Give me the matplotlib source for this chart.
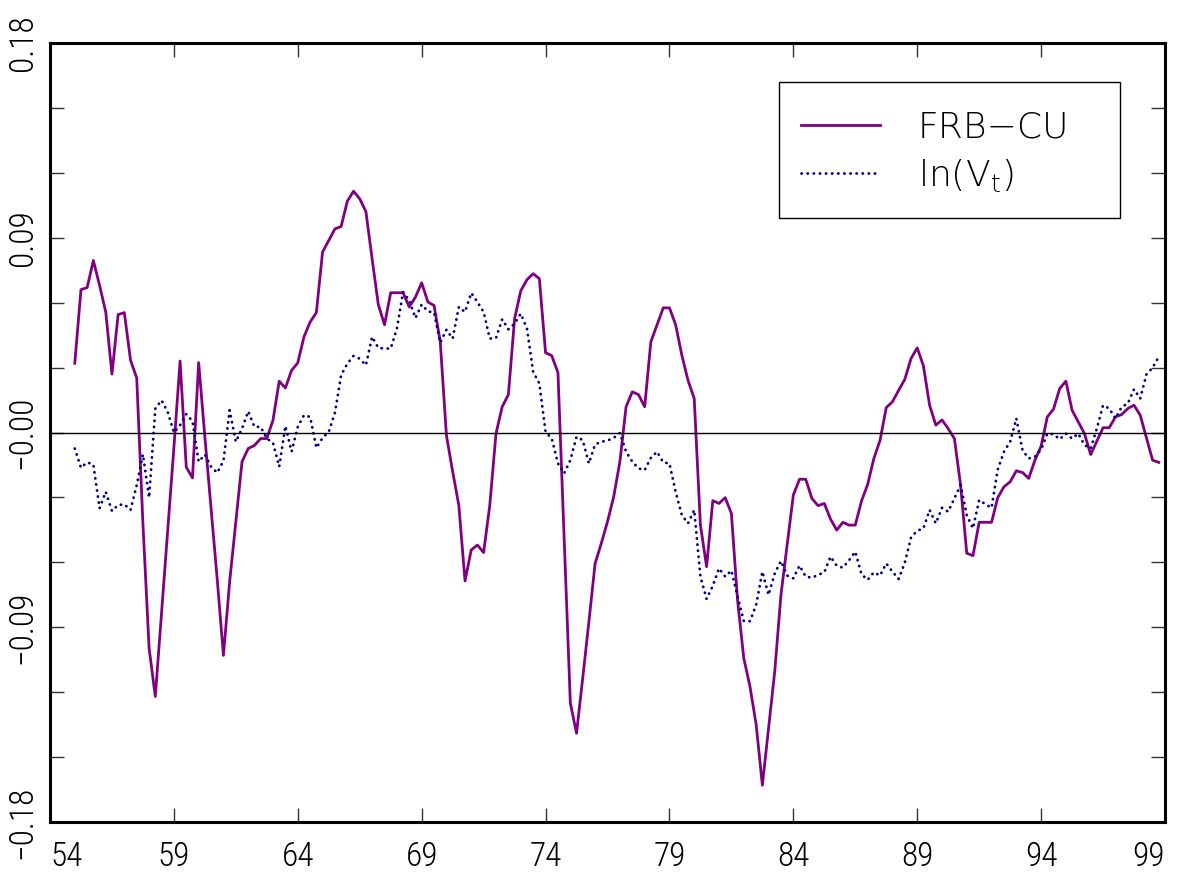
import numpy as np
import matplotlib
matplotlib.use("Agg")
import matplotlib.pyplot as plt
from matplotlib.ticker import MultipleLocator, FixedLocator
from matplotlib.patches import Rectangle

# quarterly, 1955Q1 .. 1998Q4 (years as 2-digit)
start_year = 55
n_q = 176

frb_cu = [
    0.032, 0.066, 0.067, 0.0795, 0.068, 0.0557, 0.027, 0.0545, 0.0554, 0.0334,
    0.0252, -0.042, -0.0997, -0.122, -0.0835, -0.045, -0.007, 0.033, -0.016, -0.021,
    0.0323, -0.002, -0.035, -0.068, -0.103, -0.069, -0.041, -0.0135, -0.0074, -0.006,
    -0.0028, -0.0028, 0.0057, 0.0237, 0.0206, 0.0287, 0.0322, 0.0442, 0.0511, 0.0554,
    0.0834, 0.0887, 0.0941, 0.0952, 0.1069, 0.1115, 0.108, 0.1021, 0.0803, 0.0591,
    0.0498, 0.0646, 0.0646, 0.0646, 0.058, 0.0626, 0.0692, 0.0603, 0.0587, 0.042,
    -0.0014, -0.018, -0.0337, -0.0686, -0.0543, -0.052, -0.0555, -0.0335, -0.0005, 0.0119,
    0.0175, 0.0526, 0.0655, 0.0706, 0.0734, 0.0711, 0.0369, 0.0355, 0.0277, -0.049,
    -0.125, -0.139, -0.1135, -0.0874, -0.0605, -0.0512, -0.0412, -0.0297, -0.0135, 0.0119,
    0.0188, 0.0175, 0.0119, 0.0419, 0.0498, 0.0576, 0.0576, 0.0498, 0.0357, 0.0241,
    0.0157, -0.0428, -0.062, -0.0315, -0.0328, -0.0301, -0.0374, -0.0776, -0.1043, -0.1174,
    -0.135, -0.163, -0.1366, -0.1104, -0.0751, -0.052, -0.0289, -0.0216, -0.0216, -0.0305,
    -0.0338, -0.0328, -0.04, -0.0451, -0.0415, -0.0428, -0.0428, -0.0317, -0.024, -0.012,
    -0.0036, 0.0115, 0.0142, 0.0195, 0.0246, 0.0342, 0.0391, 0.0308, 0.0126, 0.0034,
    0.0058, 0.0018, -0.0028, -0.0243, -0.0558, -0.0569, -0.0415, -0.0415, -0.0415, -0.0301,
    -0.0251, -0.0228, -0.0177, -0.0185, -0.0212, -0.0128, -0.0063, 0.0072, 0.0108, 0.0203,
    0.0237, 0.0103, 0.0049, -0.0005, -0.0102, -0.004, 0.0022, 0.0022, 0.0072, 0.0083,
    0.0111, 0.0126, 0.008, -0.0024, -0.0128, -0.0138,
]

ln_v = [
    -0.0074, -0.0163, -0.0138, -0.0148, -0.035, -0.0274, -0.0363, -0.0335, -0.0332, -0.0358,
    -0.0243, -0.0101, -0.0301, 0.011, 0.0149, 0.0095, 0.0, 0.0034, 0.0085, 0.0052,
    -0.0135, -0.0102, -0.0158, -0.0186, -0.0131, 0.0103, -0.0043, 0.0018, 0.0098, 0.0026,
    0.0026, -0.0028, -0.0048, -0.0158, 0.003, -0.0088, 0.0026, 0.008, 0.0072, -0.0071,
    -0.0025, 0.0003, 0.0092, 0.0265, 0.0318, 0.0354, 0.0341, 0.0311, 0.0442, 0.0391,
    0.0388, 0.0388, 0.048, 0.0649, 0.0611, 0.0529, 0.0591, 0.056, 0.0554, 0.0415,
    0.0475, 0.0434, 0.058, 0.0557, 0.0645, 0.0603, 0.0557, 0.0434, 0.0437, 0.0523,
    0.0477, 0.0503, 0.0549, 0.048, 0.028, 0.0226, 0.0003, -0.0028, -0.0143, -0.0189,
    -0.0128, -0.002, -0.0035, -0.0143, -0.0055, -0.0043, -0.0037, -0.0025, -0.0002, -0.0089,
    -0.0135, -0.0166, -0.0174, -0.0117, -0.0089, -0.0138, -0.0143, -0.0274, -0.0382, -0.042,
    -0.0358, -0.0666, -0.0769, -0.0709, -0.0628, -0.0666, -0.0638, -0.0758, -0.0871, -0.0872,
    -0.0797, -0.0643, -0.0751, -0.0651, -0.0594, -0.0661, -0.0674, -0.0615, -0.0666, -0.0671,
    -0.0658, -0.0646, -0.0574, -0.0615, -0.0625, -0.059, -0.0551, -0.0655, -0.0681, -0.0646,
    -0.0661, -0.0605, -0.0643, -0.0677, -0.0601, -0.0485, -0.0454, -0.0443, -0.0358, -0.042,
    -0.0348, -0.0366, -0.0305, -0.0243, -0.0382, -0.0443, -0.0312, -0.0331, -0.0348, -0.0171,
    -0.0089, -0.0043, 0.0065, -0.0082, -0.012, -0.0112, -0.0078, -0.0005, -0.0008, -0.0031,
    -0.0005, -0.0028, -0.0005, -0.0058, -0.0074, 0.0018, 0.0126, 0.0111, 0.0065, 0.0118,
    0.0134, 0.02, 0.0157, 0.0268, 0.030, 0.035,
]

years = start_year + np.arange(n_q) / 4.0

x_ticks = [54, 59, 64, 69, 74, 79, 84, 89, 94, 99]
y_ticks = [-0.18, -0.09, 0.0, 0.09, 0.18]
y_labels = ["\u22120.18", "\u22120.09", "\u22120.00", "0.09", "0.18"]

plt.rcParams['font.family'] = ['Roboto Condensed', 'Roboto', 'DejaVu Sans']
plt.rcParams['font.weight'] = 'light'

W, H = 1195, 882
fig = plt.figure(figsize=(W / 100, H / 100), dpi=100)
ax = fig.add_axes([50 / W, 1 - 822 / H, 1115 / W, 779 / H])

ax.plot(years, frb_cu, color='#800080', lw=2.0, label='FRB\u2212CU')
ax.plot(years, ln_v, color='#000080', lw=2.0, ls=(0, (0.1, 2.1)),
        dash_capstyle='round', label='ln(V$_\\mathregular{t}$)')
ax.axhline(0, color='black', lw=1.0)

ax.set_xlim(54, 99)
ax.set_ylim(-0.18, 0.18)
ax.xaxis.set_major_locator(FixedLocator(x_ticks))
ax.set_xticklabels([str(v) for v in x_ticks])
xl = ax.get_xticklabels()
xl[0].set_ha('left')
xl[-1].set_ha('right')
ax.set_yticks(y_ticks)
ax.set_yticklabels(y_labels, rotation=90, va='center')
ax.yaxis.set_minor_locator(MultipleLocator(0.03))

ax.tick_params(which='both', direction='in', top=True, right=True, length=10,
               width=1.0, color='#333333', labelsize=24)
ax.tick_params(axis='x', pad=14)
ax.tick_params(axis='y', pad=8)
for s in ax.spines.values():
    s.set_linewidth(2.2)

# legend box drawn separately so its size matches the original
fig.patches.append(Rectangle((779 / W, 1 - 218 / H), 341 / W, 136 / H,
                             transform=fig.transFigure, fill=False,
                             edgecolor='black', lw=1.0, zorder=5))
leg = fig.legend(loc='upper left', bbox_to_anchor=(779 / W, 1 - 89 / H),
                 prop={'family': 'DejaVu Sans', 'weight': 'light', 'size': 26},
                 frameon=False, handlelength=2.2, handletextpad=1.05,
                 borderpad=0.6, labelspacing=0.33, borderaxespad=0)

fig.savefig("out.png", dpi=100)
